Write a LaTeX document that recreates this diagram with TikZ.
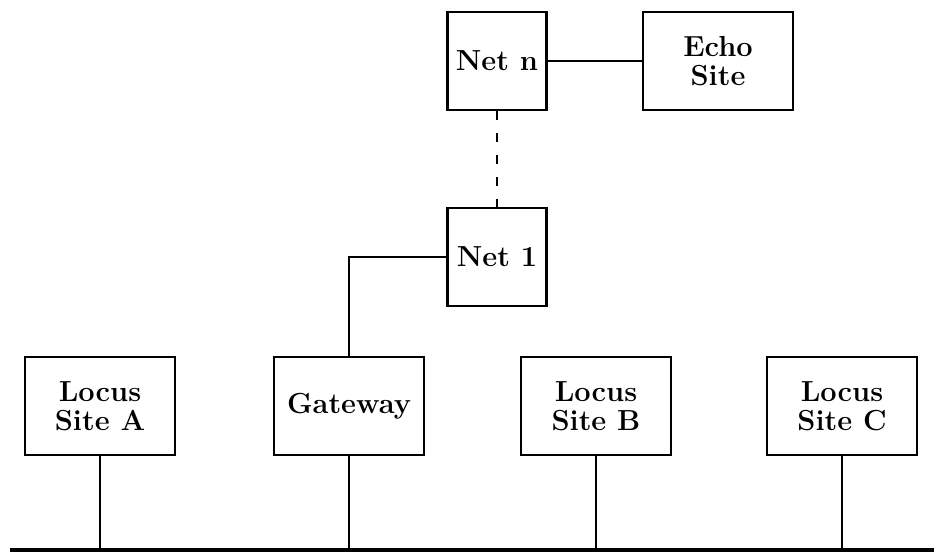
\documentclass[tikz,border=0pt]{standalone}
\begin{document}
\begin{tikzpicture}[x=1pt,y=-1pt,
  box/.style={draw,line width=2.2pt,minimum width=150pt,minimum height=98pt,inner sep=0pt,align=center,
    font=\fontsize{29}{28.5}\selectfont\bfseries},
  netbox/.style={box,minimum width=99pt},
  link/.style={line width=2pt}]
\useasboundingbox (0,0) rectangle (934,552);
\node[netbox] (netn) at (497,61) {Net n};
\node[box] (echo) at (718,61) {Echo\\Site};
\node[netbox] (net1) at (497,257) {Net 1};
\node[box] (a) at (100,406) {Locus\\Site A};
\node[box] (gw) at (349,406) {Gateway};
\node[box] (b) at (596,406) {Locus\\Site B};
\node[box] (c) at (842,406) {Locus\\Site C};
\coordinate (bl) at (10,550);
\coordinate (br) at (934,550);
\draw[line width=4pt] (bl) -- (br);
\draw[link] (netn) -- (echo);
\draw[link,dash pattern=on 9pt off 13pt] (netn.south) -- (net1.north);
\draw[link] (net1.west) -| (gw.north);
\foreach \n in {a,gw,b,c} \draw[link] (\n.south) -- (\n.south |- bl);
\end{tikzpicture}
\end{document}
